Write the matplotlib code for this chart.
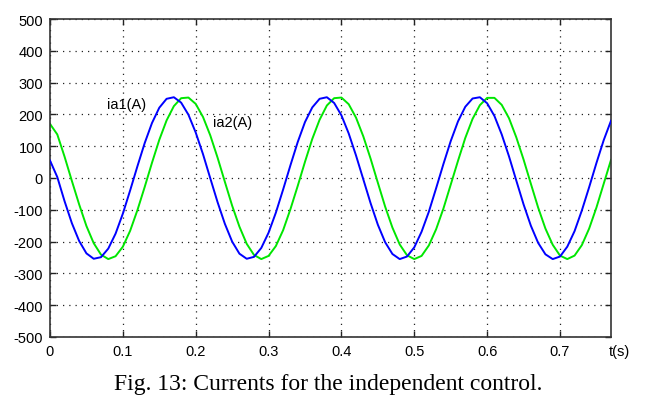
import numpy as np
import matplotlib
matplotlib.use("Agg")
import matplotlib.pyplot as plt

plt.rcParams['font.family'] = ['Liberation Sans', 'DejaVu Sans']
plt.rcParams['axes.unicode_minus'] = False

# --- 数据：从图上读取，每 0.01 s 取一点 ---
T_STEP = 0.01
t = np.round(np.arange(0, 0.775, T_STEP), 2)  # 0.00 ... 0.77

ia1 = [55, 3, -73, -142, -198, -237, -254, -249, -222, -175,
       -112, -39, 37, 110, 173, 221, 249, 254, 237, 199,
       143, 75, -1, -76, -144, -200, -238, -254, -248, -220,
       -172, -109, -36, 40, 113, 176, 222, 249, 254, 236,
       197, 140, 71, -4, -79, -147, -202, -239, -255, -247,
       -218, -169, -106, -32, 44, 116, 178, 224, 250, 254,
       235, 195, 137, 68, -8, -83, -150, -204, -240, -255,
       -247, -216, -167, -102, -29, 47, 119, 180]

ia2 = [170, 137, 67, -9, -83, -151, -205, -241, -255, -246,
       -216, -166, -101, -28, 48, 120, 181, 226, 251, 253,
       233, 192, 134, 64, -12, -87, -153, -207, -242, -255,
       -245, -214, -164, -98, -25, 51, 123, 183, 228, 251,
       253, 232, 190, 131, 61, -15, -90, -156, -209, -243,
       -255, -245, -212, -161, -96, -21, 54, 126, 186, 229,
       252, 252, 230, 188, 128, 58, -18, -93, -159, -210,
       -244, -255, -244, -211, -159, -93, -18, 57]

x_ticks = [0, 0.1, 0.2, 0.3, 0.4, 0.5, 0.6, 0.7]
x_labels = ['0', '0.1', '0.2', '0.3', '0.4', '0.5', '0.6', '0.7']
y_ticks = list(range(-500, 501, 100))

fig = plt.figure(figsize=(6.59, 4.06), dpi=100)
ax = fig.add_axes([50 / 659, 1 - 338 / 406, 561 / 659, 318 / 406])

ax.plot(t, ia1, color='#0000ff', linewidth=1.4, zorder=3)
ax.plot(t, ia2, color='#00e600', linewidth=1.4, zorder=2)

ax.set_xlim(0, 0.77)
ax.set_ylim(-500, 500)
ax.set_xticks(x_ticks)
ax.set_xticklabels(x_labels)
ax.set_yticks(y_ticks)
ax.set_yticklabels([str(v) for v in y_ticks])

ax.grid(True, color='#222222', linestyle=(0, (1, 4)), linewidth=0.9)
ax.tick_params(direction='in', length=4, width=1, top=True, right=True,
               labelsize=10.5, pad=5, colors='#222222', labelcolor='black')
for sp in ax.spines.values():
    sp.set_color('#333333')
    sp.set_linewidth(1.2)

ax.text(0.078, 233, 'ia1(A)', fontsize=10.5, va='center', ha='left')
ax.text(0.224, 176, 'ia2(A)', fontsize=10.5, va='center', ha='left')

fig.text(619 / 659, 1 - 352 / 406, 't(s)', fontsize=10.5, ha='center', va='center')
fig.text(328 / 659, 1 - 385 / 406, 'Fig. 13: Currents for the independent control.',
         fontsize=17, ha='center', va='center', family='Liberation Serif')

fig.savefig('out.png', dpi=100)
